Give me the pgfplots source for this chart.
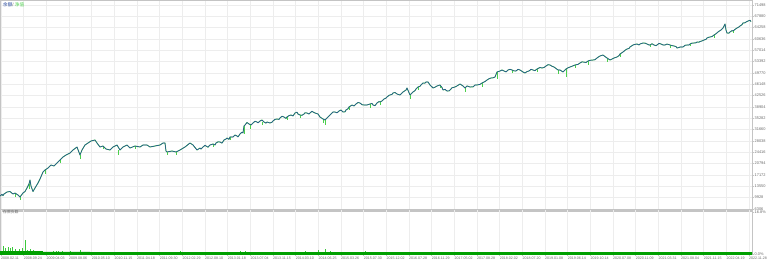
\documentclass[border=0pt]{standalone}
\usepackage{pgfplots}
\pgfplotsset{compat=1.18}
\usepackage{fontspec}
\setmainfont{Liberation Sans}
\newfontfamily\cjk{Noto Sans CJK SC}
\definecolor{bal}{HTML}{22449A}
\definecolor{eq}{HTML}{4CD04C}
\definecolor{gridc}{HTML}{EDEDED}
\definecolor{bord}{HTML}{C4C4C4}
\definecolor{txt}{HTML}{6A6A6A}
\definecolor{dg}{HTML}{00A000}
\definecolor{lg}{HTML}{3CC83C}
\pgfplotstableread{
x y
0 10378
2 10900
3 10500
4 11018
7 11658
10 11818
13 11018
15 11338
18 10698
20 10058
23 11338
25 11818
27 12938
29 14218
30 15498
31 13578
33 11818
35 12938
38 14538
40 15818
43 18058
45 18698
48 19338
51 20298
54 19978
57 20938
60 21898
63 22858
66 23498
70 24138
73 25098
77 26058
80 23498
82 25098
85 26698
88 27338
91 27978
95 28298
97 27338
100 26058
103 26378
106 25418
110 25098
113 26058
117 26698
120 25098
123 26058
127 26698
130 25738
135 26378
140 26058
143 26698
147 26698
150 26058
155 26378
160 26698
163 27338
165 27338
166 24778
167 24458
172 24778
176 24458
180 25098
185 26058
190 27338
193 26698
197 25098
200 25738
201 25400
203 26058
205 26600
206 26378
208 26000
210 26698
212 26900
213 27018
215 26700
216 27338
218 27700
220 27658
222 27300
224 28298
226 28600
227 28938
229 28500
230 29258
233 29258
235 29900
237 29578
238 29300
240 30218
242 30800
243 30538
244 32778
245 33098
247 33900
249 33418
251 33100
253 33738
255 34300
257 34058
258 33800
260 34378
262 34700
264 34058
266 33700
267 34058
270 33738
272 34000
273 34378
275 34900
277 35018
279 34900
280 35338
282 35900
284 35658
286 35200
287 35658
289 36100
291 36298
293 36000
295 36938
297 37200
298 36618
300 36298
302 36200
304 36618
305 37000
307 36938
309 36600
310 36938
312 37500
313 37258
315 36938
318 36618
320 35658
323 35018
325 34698
328 35658
330 36298
333 37258
335 37258
337 37000
339 37578
341 37900
343 37258
345 37300
346 37898
348 38300
349 38858
352 39498
354 39200
356 39818
358 40300
360 40138
362 39600
364 39498
367 39498
370 39818
372 40000
373 39498
375 39300
377 40138
379 40600
380 40458
382 40800
384 41418
386 41700
387 42058
389 42600
390 42698
392 42900
393 43338
395 43500
397 43018
400 42698
403 43658
406 44300
407 44938
410 42698
413 43658
415 44100
416 44618
418 45258
420 45500
421 45898
423 46538
425 46500
426 46858
428 46858
430 45898
432 45300
433 44938
435 45200
437 45578
440 45898
442 45100
443 44298
445 44500
447 43978
449 44000
450 44298
452 45000
455 45258
457 45600
460 46218
462 45800
463 45578
465 44938
467 45600
470 45258
473 45300
475 45900
477 45898
480 46100
482 46538
485 47000
487 47498
489 47900
491 48138
493 48200
495 48458
497 50058
500 50378
502 50700
504 50378
506 50100
508 50698
510 50900
512 50698
514 50400
516 50378
518 50900
520 50698
523 50058
525 49738
527 50200
529 50378
531 50900
533 50698
535 50500
537 51018
540 51500
542 51338
544 51500
546 51978
548 52400
550 52298
552 51900
554 51658
558 50698
560 50700
563 50058
566 51018
568 51400
570 51658
572 51900
575 52298
578 52500
580 52938
582 53300
583 53258
586 53100
588 53578
590 53800
593 53898
595 54000
597 54538
599 55000
600 55178
603 55498
605 55000
607 54538
610 53898
612 54200
614 54538
617 54858
619 55300
620 55818
623 56458
625 57000
627 57418
629 57600
630 58058
633 58698
635 58900
637 59018
639 58700
640 59018
643 59338
645 59300
647 59018
649 58700
650 58698
652 59100
654 58698
656 58500
657 58698
659 59200
661 59018
663 58700
665 58698
667 59000
670 58698
672 58500
674 58378
676 58200
677 57738
679 57900
680 58058
683 58058
685 58600
687 58698
689 58700
690 59018
692 59300
694 59338
696 59400
697 59658
699 59600
700 59818
702 60000
704 60298
706 60500
707 60938
709 61200
710 61258
712 61400
714 61898
716 62300
718 62858
719 63100
721 63498
723 64138
725 65418
726 63498
727 62538
729 62500
730 62858
732 63300
733 63178
735 63700
737 64138
739 64500
740 64778
742 65200
743 65738
745 65800
746 66058
748 66378
750 66600
751 66218
}\baldata
\pgfplotsset{
  mt/.style={scale only axis, width=752pt, xmin=0, xmax=752,
    xtick={1,23.67,46.33,69,91.67,114.33,137,159.67,182.33,205,227.67,250.33,273,295.67,318.33,341,363.67,386.33,409,431.67,454.33,477,499.67,522.33,545,567.67,590.33,613,635.67,658.33,681,703.67,726.33,749},
    scaled y ticks=false, scaled x ticks=false,
    axis line style={bord, line width=0.8pt},
    grid style={gridc, line width=0.4pt},
    ytick pos=right, yticklabel pos=right, xtick pos=bottom,
    tick align=outside, major tick length=2pt,
    tick style={bord, line width=0.4pt},
    y tick label style={anchor=west, inner sep=0.5pt, font=\fontsize{3.9}{4}\selectfont, text=txt},
    x tick label style={anchor=north west, inner sep=0.5pt, xshift=-0.5pt, font=\fontsize{3.6}{4}\selectfont, text=txt},
    clip=true}
}
\begin{document}
\begin{tikzpicture}
\begin{axis}[mt, name=main, at={(0pt,266pt)}, anchor=north west, height=209pt,
  ymin=6218, ymax=73098, grid=major, xticklabels={},
  ytick={6306,9928,13550,17172,20794,24416,28038,31660,35282,38904,42526,46148,49770,53392,57014,60636,64258,67880,71498},
  yticklabels={6306,9928,13550,17172,20794,24416,28038,31660,35282,38904,42526,46148,49770,53392,57014,60636,64258,67880,71498}]
\addplot[draw=none, mark=none, forget plot,
  error bars/.cd, y dir=minus, y explicit, error mark=none,
  error bar style={draw=eq, line width=0.7pt}] coordinates {
(15,11338) -= (0,1300) (20,10058) -= (0,900) (29,14218) -= (0,1500) (45,18698) -= (0,1200)
(60,21898) -= (0,1000) (80,23498) -= (0,1300) (103,26378) -= (0,900) (118,25098) -= (0,1500)
(135,26378) -= (0,800) (167,24458) -= (0,1100) (176,24458) -= (0,800) (213,27018) -= (0,900)
(230,29258) -= (0,1000) (244,32778) -= (0,2400) (250,33418) -= (0,1600) (262,34058) -= (0,1000)
(287,35658) -= (0,800) (300,36298) -= (0,900) (323,35018) -= (0,1400) (325,34698) -= (0,1600)
(349,38858) -= (0,900) (370,39818) -= (0,1300) (380,40458) -= (0,900) (410,42698) -= (0,1300)
(418,45258) -= (0,900) (440,45898) -= (0,1100) (465,44938) -= (0,1400) (482,46538) -= (0,1300)
(497,50058) -= (0,2200) (512,50698) -= (0,900) (537,51018) -= (0,1000) (558,50698) -= (0,1400)
(566,51018) -= (0,2600) (575,52298) -= (0,1000) (588,53578) -= (0,1200) (607,54538) -= (0,1300)
(620,55818) -= (0,900) (650,58698) -= (0,700) (670,58698) -= (0,800) (690,59018) -= (0,600)
(714,61898) -= (0,800) (733,63178) -= (0,700)
};
\addplot[eq, line width=0.9pt, line join=round] table[x=x,y=y] {\baldata};
\addplot[bal, line width=0.55pt, line join=round] table[x=x,y=y] {\baldata};
\node[anchor=north west, inner sep=0pt, font=\fontsize{4.6}{5}\selectfont] at (rel axis cs:0.004,0.99)
  {\textcolor{bal}{\cjk 余额}\textcolor{txt}{ / }\textcolor{eq}{\cjk 净值}};
\end{axis}
\fill[bord] ([yshift=-0.4pt]main.south west) rectangle ([yshift=-2.9pt]main.south east);
\begin{axis}[mt, at={([yshift=-3.2pt]main.south west)}, anchor=north west, height=45pt,
  ymin=0, ymax=16.8, xmajorgrids=true,
  ytick={0,15.6}, yticklabels={0.0\%,16.8\%},
  xticklabels={2008.02.11,2008.09.24,2009.04.03,2009.08.06,2010.05.10,2010.11.15,2011.04.18,2011.09.30,2012.02.29,2012.08.10,2013.01.18,2013.07.04,2013.11.15,2014.03.10,2014.06.25,2015.03.26,2015.07.30,2015.12.02,2016.07.28,2016.11.29,2017.05.02,2017.08.28,2018.02.02,2018.07.20,2019.01.08,2019.06.14,2019.10.14,2020.07.08,2020.11.09,2021.03.31,2021.08.04,2021.11.15,2022.04.19,2022.11.28}]
\addplot[ycomb, lg, line width=0.7pt] coordinates {
(3,3.0)(5,2.2)(8,2.6)(10,2.4)(12,2.8)(15,1.8)(19,2.0)(22,2.2)(25,5.2)(27,1.6)(30,2.0)(33,1.5)
(36,1.2)(40,1.0)(45,0.8)(53,1.1)(56,1.2)(58,1.3)(62,1.0)(66,0.9)(70,1.0)(74,0.8)(80,1.6)(83,0.9)
(95,0.8)(100,0.7)(110,0.9)(117,0.8)(125,0.6)(135,0.7)(150,0.8)(160,0.6)(172,0.7)(180,1.3)(195,0.6)
(210,0.7)(226,0.8)(240,1.0)(245,1.3)(252,0.8)(262,0.9)(270,0.7)(280,0.8)(290,0.7)(300,0.8)(305,1.0)
(310,0.7)(318,1.5)(322,0.9)(325,1.7)(330,1.2)(340,0.7)(350,0.8)(357,0.6)(365,1.0)(375,0.7)(385,0.8)
(395,0.5)(405,0.6)(420,0.5)(440,0.8)(455,0.5)(470,0.6)(480,0.5)(520,0.6)(530,0.9)(540,0.5)(560,0.6)
(570,0.5)(600,0.5)(640,0.6)(690,0.5)(710,0.8)(730,0.6)
};
\addplot[const plot, fill=dg, draw=dg, line width=0.3pt] coordinates {(0,1.1)(42,0.8)(90,0.6)(752,0.6)} \closedcycle;
\node[anchor=north west, inner sep=0pt, font=\fontsize{3.8}{4}\selectfont, text=txt] at (rel axis cs:0.004,0.97) {\cjk 存款负载};
\end{axis}
\pgfresetboundingbox
\path[use as bounding box] (0pt,0pt) rectangle (767pt,266pt);
\end{tikzpicture}
\end{document}
